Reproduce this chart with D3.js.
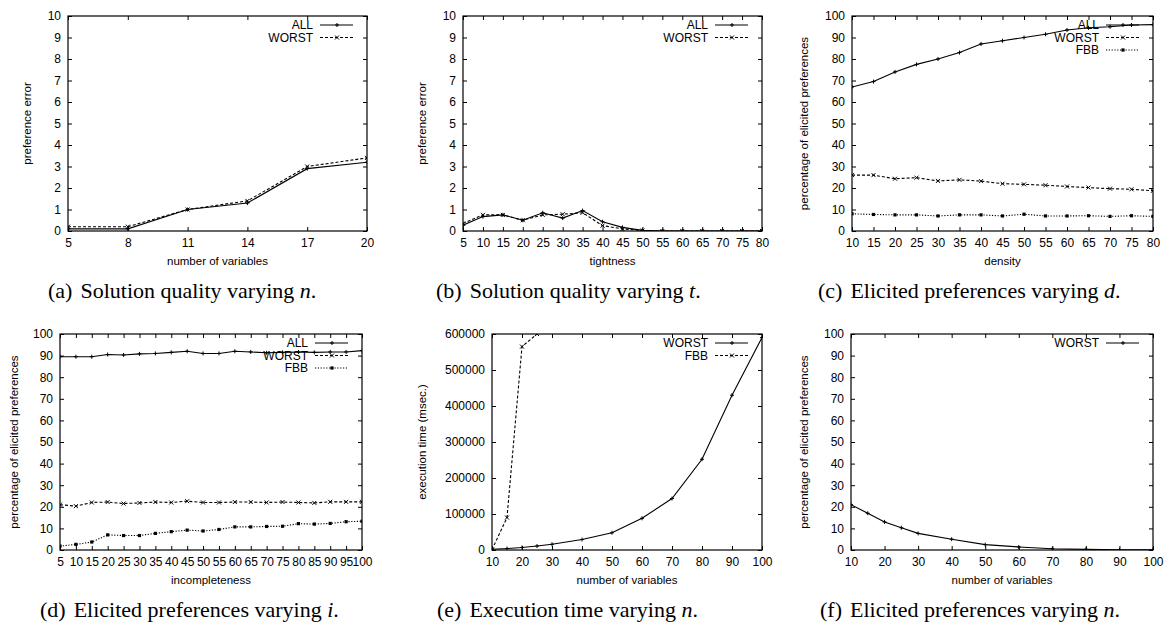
<!DOCTYPE html>
<html>
<head>
<meta charset="utf-8">
<script src="https://cdn.jsdelivr.net/npm/d3@7"></script>
<style>
  body { margin: 0; background: #fff; }
  .axis text { font-family: "Liberation Sans", Arial, sans-serif; font-size: 12px; fill: #000; }
  .axis line { stroke: #000; stroke-width: 1; }
  .axis path { display: none; }
  .atitle { font-family: "Liberation Sans", Arial, sans-serif; font-size: 11.5px; fill: #000; }
  .legend { font-family: "Liberation Sans", Arial, sans-serif; font-size: 12px; fill: #000; }
  .caption { font-family: "Liberation Serif", "Times New Roman", serif; font-size: 22px; fill: #000; }
</style>
</head>
<body>
<div id="chart"></div>
<script>
// (a) solution quality vs number of variables
var aX = [5, 8, 11, 14, 17, 20];
var aAll = [0.1, 0.1, 1.0, 1.3, 2.9, 3.2];
var aWorst = [0.2, 0.2, 1.0, 1.4, 3.0, 3.4];
var aTicks = [5, 8, 11, 14, 17, 20];

// (b) solution quality vs tightness
var bX = [5, 10, 15, 20, 25, 30, 35, 40, 45, 50, 55, 60, 65, 70, 75, 80];
var bAll = [0.27, 0.67, 0.75, 0.5, 0.85, 0.6, 0.95, 0.43, 0.17, 0.03, 0, 0, 0, 0, 0, 0];
var bWorst = [0.35, 0.75, 0.75, 0.5, 0.75, 0.78, 0.85, 0.25, 0.1, 0.02, 0, 0, 0, 0, 0, 0];

// (c) elicited preferences vs density
var cX = [10, 15, 20, 25, 30, 35, 40, 45, 50, 55, 60, 65, 70, 75, 80];
var cAll = [67, 69.5, 74, 77.5, 80, 83, 87, 88.5, 90, 91.5, 93.5, 94.5, 95, 95.8, 96];
var cWorst = [26, 26, 24.3, 24.8, 23.3, 23.8, 23.2, 22, 21.7, 21.3, 20.7, 20.2, 19.7, 19.4, 18.7];
var cFbb = [8, 7.7, 7.5, 7.5, 7, 7.5, 7.5, 7, 7.8, 7, 7, 7.1, 6.8, 7.1, 6.8];

// (d) elicited preferences vs incompleteness
var dX = [5, 10, 15, 20, 25, 30, 35, 40, 45, 50, 55, 60, 65, 70, 75, 80, 85, 90, 95, 100];
var dAll = [89.5, 89.5, 89.5, 90.5, 90.3, 90.8, 91, 91.5, 92, 91, 91, 92, 91.7, 91.3, 91.5, 91.7, 91.5, 91.7, 91.7, 92.3];
var dWorst = [21, 20.3, 22, 22.2, 21.5, 21.8, 22.2, 22, 22.6, 22, 22, 22.2, 22.2, 22, 22.2, 22, 21.8, 22.3, 22.3, 22.3];
var dFbb = [1.8, 2.6, 3.7, 7, 6.7, 6.7, 7.7, 8.5, 9.2, 8.8, 9.5, 10.7, 10.7, 10.9, 11, 12.2, 12, 12.3, 13.1, 13.3];

// (e) execution time vs number of variables
var eX = [10, 15, 20, 25, 30, 40, 50, 60, 70, 80, 90, 100];
var eWorst = [2000, 4000, 7000, 11000, 16000, 29000, 48000, 88000, 143000, 252000, 430000, 590000];
var eFbbX = [10, 15, 20, 25];
var eFbb = [1000, 90000, 565000, 600000];

// (f) elicited preferences vs number of variables
var fX = [10, 15, 20, 25, 30, 40, 50, 60, 70, 80, 90, 100];
var fWorst = [21, 17, 13, 10.3, 7.7, 5, 2.5, 1.4, 0.6, 0.3, 0.1, 0.05];

var tens = [0, 10, 20, 30, 40, 50, 60, 70, 80, 90, 100];

var svg = d3.select("#chart").append("svg")
  .attr("width", 1168)
  .attr("height", 626);

var dashes = { solid: null, dashed: "3,2", dotted: "1.2,1.6" };

function marker(g, shape, x, y) {
  if (shape == "plus") {
    g.append("path").attr("d", "M" + (x - 2) + "," + y + "h4M" + x + "," + (y - 2) + "v4")
      .attr("stroke", "#000").attr("stroke-width", 1);
  } else if (shape == "cross") {
    g.append("path").attr("d", "M" + (x - 2) + "," + (y - 2) + "l4,4M" + (x - 2) + "," + (y + 2) + "l4,-4")
      .attr("stroke", "#000").attr("stroke-width", 1);
  } else {
    g.append("rect").attr("x", x - 1.6).attr("y", y - 1.6).attr("width", 3.2).attr("height", 3.2).attr("fill", "#000");
  }
}

function panel(p) {
  var g = svg.append("g");
  var x = d3.scaleLinear().domain(p.xdom).range([p.left, p.right]);
  var y = d3.scaleLinear().domain(p.ydom).range([p.bottom, p.top]);

  g.append("g").attr("class", "axis").attr("transform", "translate(0," + p.bottom + ")")
    .call(d3.axisBottom(x).tickValues(p.xticks).tickSizeInner(-4).tickSizeOuter(0).tickPadding(7).tickFormat(d3.format("d")));
  g.append("g").attr("class", "axis").attr("transform", "translate(0," + p.top + ")")
    .call(d3.axisTop(x).tickValues(p.xticks).tickSizeInner(-4).tickSizeOuter(0).tickFormat(""));
  g.append("g").attr("class", "axis").attr("transform", "translate(" + p.left + ",0)")
    .call(d3.axisLeft(y).tickValues(p.yticks).tickSizeInner(-4).tickSizeOuter(0).tickPadding(7).tickFormat(d3.format("d")));
  g.append("g").attr("class", "axis").attr("transform", "translate(" + p.right + ",0)")
    .call(d3.axisRight(y).tickValues(p.yticks).tickSizeInner(-4).tickSizeOuter(0).tickFormat(""));

  g.append("clipPath").attr("id", "clip" + p.id).append("rect")
    .attr("x", p.left).attr("y", p.top).attr("width", p.right - p.left).attr("height", p.bottom - p.top);

  var line = d3.line().x(function(d) { return x(d[0]); }).y(function(d) { return y(d[1]); });
  var lg = g.append("g").attr("clip-path", "url(#clip" + p.id + ")");

  p.series.forEach(function(s, i) {
    var pts = s.x.map(function(v, j) { return [v, s.y[j]]; });
    lg.append("path").datum(pts).attr("d", line).attr("fill", "none")
      .attr("stroke", "#000").attr("stroke-width", 1.1)
      .attr("stroke-dasharray", dashes[s.dash]);
    pts.forEach(function(d) { marker(lg, s.mark, x(d[0]), y(d[1])); });

    var ly = p.top + 9 + 12.5 * i;
    g.append("text").attr("class", "legend").attr("x", p.right - 54).attr("y", ly).attr("dy", "0.35em")
      .attr("text-anchor", "end").text(s.name);
    g.append("line").attr("x1", p.right - 47).attr("x2", p.right - 14).attr("y1", ly).attr("y2", ly)
      .attr("stroke", "#000").attr("stroke-width", 1.1).attr("stroke-dasharray", dashes[s.dash]);
    marker(g, s.mark, p.right - 30, ly);
  });

  g.append("rect").attr("x", p.left).attr("y", p.top)
    .attr("width", p.right - p.left).attr("height", p.bottom - p.top)
    .attr("fill", "none").attr("stroke", "#000").attr("stroke-width", 1.2);

  g.append("text").attr("class", "atitle").attr("x", (p.left + p.right) / 2).attr("y", p.bottom + 34)
    .attr("text-anchor", "middle").text(p.xlabel);
  g.append("text").attr("class", "atitle")
    .attr("transform", "translate(" + p.ylx + "," + (p.top + p.bottom) / 2 + ") rotate(-90)")
    .attr("text-anchor", "middle").attr("dy", "0.35em").text(p.ylabel);

  var cap = g.append("text").attr("class", "caption").attr("x", p.capx).attr("y", p.bottom + 67);
  cap.append("tspan").text(p.cap[0]);
  cap.append("tspan").attr("dx", 8).text(p.cap[1]);
  cap.append("tspan").attr("font-style", "italic").text(p.cap[2]);
  cap.append("tspan").text(".");
}

panel({ id: "a", left: 68, right: 367, top: 16, bottom: 231, xdom: [5, 20], ydom: [0, 10],
  xticks: aTicks, yticks: d3.range(0, 11), xlabel: "number of variables", ylabel: "preference error", ylx: 27,
  capx: 48, cap: ["(a)", "Solution quality varying ", "n"],
  series: [{ name: "ALL", x: aX, y: aAll, dash: "solid", mark: "plus" },
           { name: "WORST", x: aX, y: aWorst, dash: "dashed", mark: "cross" }] });

panel({ id: "b", left: 463, right: 762, top: 16, bottom: 231, xdom: [5, 80], ydom: [0, 10],
  xticks: bX, yticks: d3.range(0, 11), xlabel: "tightness", ylabel: "preference error", ylx: 422,
  capx: 436, cap: ["(b)", "Solution quality varying ", "t"],
  series: [{ name: "ALL", x: bX, y: bAll, dash: "solid", mark: "plus" },
           { name: "WORST", x: bX, y: bWorst, dash: "dashed", mark: "cross" }] });

panel({ id: "c", left: 852, right: 1153, top: 16, bottom: 231, xdom: [10, 80], ydom: [0, 100],
  xticks: cX, yticks: tens, xlabel: "density", ylabel: "percentage of elicited preferences", ylx: 804,
  capx: 818, cap: ["(c)", "Elicited preferences varying ", "d"],
  series: [{ name: "ALL", x: cX, y: cAll, dash: "solid", mark: "plus" },
           { name: "WORST", x: cX, y: cWorst, dash: "dashed", mark: "cross" },
           { name: "FBB", x: cX, y: cFbb, dash: "dotted", mark: "square" }] });

panel({ id: "d", left: 60, right: 362, top: 334, bottom: 550, xdom: [5, 100], ydom: [0, 100],
  xticks: dX, yticks: tens, xlabel: "incompleteness", ylabel: "percentage of elicited preferences", ylx: 14,
  capx: 40, cap: ["(d)", "Elicited preferences varying ", "i"],
  series: [{ name: "ALL", x: dX, y: dAll, dash: "solid", mark: "plus" },
           { name: "WORST", x: dX, y: dWorst, dash: "dashed", mark: "cross" },
           { name: "FBB", x: dX, y: dFbb, dash: "dotted", mark: "square" }] });

panel({ id: "e", left: 492, right: 762, top: 334, bottom: 550, xdom: [10, 100], ydom: [0, 600000],
  xticks: d3.range(10, 101, 10), yticks: d3.range(0, 600001, 100000), xlabel: "number of variables",
  ylabel: "execution time (msec.)", ylx: 422,
  capx: 437, cap: ["(e)", "Execution time varying ", "n"],
  series: [{ name: "WORST", x: eX, y: eWorst, dash: "solid", mark: "plus" },
           { name: "FBB", x: eFbbX, y: eFbb, dash: "dashed", mark: "cross" }] });

panel({ id: "f", left: 851, right: 1153, top: 334, bottom: 550, xdom: [10, 100], ydom: [0, 100],
  xticks: d3.range(10, 101, 10), yticks: tens, xlabel: "number of variables",
  ylabel: "percentage of elicited preferences", ylx: 804,
  capx: 820, cap: ["(f)", "Elicited preferences varying ", "n"],
  series: [{ name: "WORST", x: fX, y: fWorst, dash: "solid", mark: "plus" }] });
</script>
</body>
</html>
